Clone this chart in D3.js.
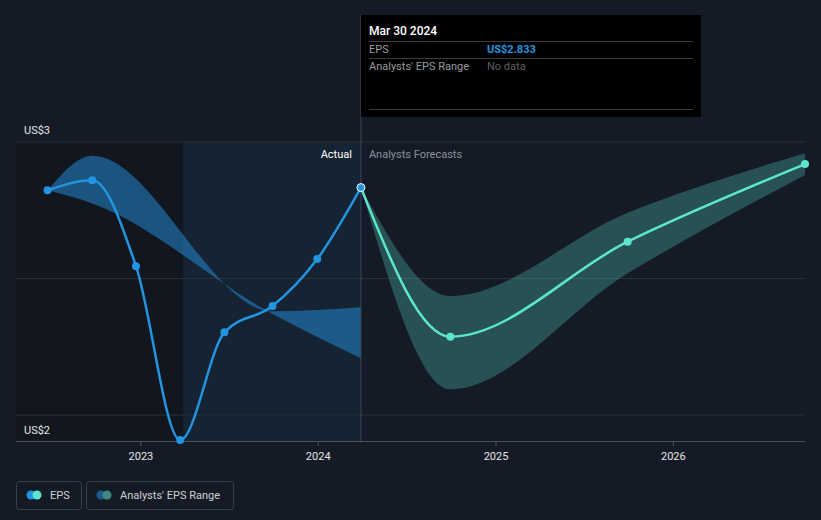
<!DOCTYPE html>
<html><head><meta charset="utf-8">
<script src="https://cdn.jsdelivr.net/npm/d3@7"></script>
<style>
html,body{margin:0;padding:0;background:#151b26;}
svg{display:block;font-family:Roboto,"Open Sans",sans-serif;}
</style></head>
<body>
<svg id="chart" width="821" height="520"></svg>
<script>
// ---- data ----
const actualDates = ["2022-06-24","2022-09-24","2022-12-23","2023-03-24","2023-06-23","2023-09-30","2023-12-31","2024-03-30"];
const actualEps = [2.823, 2.860, 2.545, 1.908, 2.303, 2.399, 2.571, 2.833];
const forecastDates = ["2024-03-30","2024-09-30","2025-09-30","2026-09-30"];
const forecastEps = [2.833, 2.287, 2.635, 2.919];
const forecastHigh = [2.833, 2.436, 2.741, 2.959];
const forecastLow = [2.833, 2.094, 2.519, 2.879];
const pastRangeDates = ["2022-06-24","2022-09-24","2023-09-30","2024-03-30"];
const pastHigh = [2.823, 2.950, 2.380, 2.395];
const pastLow = [2.823, 2.775, 2.370, 2.208];
const yTicks = [2, 2.5, 3];
const yLabels = ["US$2", "US$3"];
const yLabelValues = [2, 3];
const xTickYears = ["2023","2024","2025","2026"];
const lastActualLabel = "Mar 30 2024";
const lastActualValue = "US$2.833";
const ltmStart = "2023-03-30";

const parse = d3.timeParse("%Y-%m-%d");
const svg = d3.select("#chart");
const L = 16, R = 805, T = 142, B = 441;

const x = d3.scaleTime().domain([parse("2022-04-20"), parse("2026-09-30")]).range([L, R]);
const y = d3.scaleLinear().domain([2, 3]).range([415, 142]);

const lastX = x(parse(actualDates[actualDates.length-1]));

// background regions
svg.append("rect").attr("x", L).attr("y", T).attr("width", x(parse(ltmStart)) - L).attr("height", B - T).attr("fill", "#12161e");
svg.append("rect").attr("x", x(parse(ltmStart))).attr("y", T).attr("width", lastX - x(parse(ltmStart))).attr("height", B - T).attr("fill", "#2394df").attr("opacity", 0.07);

// gridlines
svg.append("g").selectAll("line").data(yTicks).join("line")
  .attr("x1", L).attr("x2", R).attr("y1", d => y(d)).attr("y2", d => y(d))
  .attr("stroke", "#2a3039").attr("stroke-width", 1);

// x axis
const xAxis = d3.axisBottom(x)
  .tickValues(xTickYears.map(s => parse(s + "-01-01")))
  .tickFormat(d3.timeFormat("%Y")).tickSize(5).tickPadding(6);
const gx = svg.append("g").attr("transform", `translate(0,${B})`).call(xAxis);
gx.select(".domain").attr("stroke", "#4a505a").attr("d", `M${L},0.5H${R}`);
gx.selectAll(".tick line").attr("stroke", "#4a505a");
gx.selectAll(".tick text").attr("fill", "#e6e6e6").attr("font-size", 11).attr("font-family", "Roboto, sans-serif");

// y labels
svg.append("g").selectAll("text").data(yLabelValues).join("text")
  .attr("x", 24).attr("y", (d, i) => i === 0 ? y(d) + 19 : y(d) - 8)
  .attr("fill", "#e6e6e6").attr("font-size", 11)
  .text((d, i) => yLabels[i]);

// past analysts range band
const pastBand = pastRangeDates.map((d, i) => ({ d: parse(d), hi: pastHigh[i], lo: pastLow[i] }));
svg.append("path").datum(pastBand)
  .attr("d", d3.area().curve(d3.curveMonotoneX).x(d => x(d.d)).y0(d => y(d.lo)).y1(d => y(d.hi)))
  .attr("fill", "#2394df").attr("opacity", 0.5);

// forecast band
const fBand = forecastDates.map((d, i) => ({ d: parse(d), hi: forecastHigh[i], lo: forecastLow[i] }));
svg.append("path").datum(fBand)
  .attr("d", d3.area().curve(d3.curveMonotoneX).x(d => x(d.d)).y0(d => y(d.lo)).y1(d => y(d.hi)))
  .attr("fill", "#5de6cf").attr("opacity", 0.27);

// vertical separator
svg.append("line").attr("x1", lastX).attr("x2", lastX).attr("y1", 15).attr("y2", B)
  .attr("stroke", "#3b4656").attr("stroke-width", 1);

// labels Actual / Analysts Forecasts
svg.append("text").attr("x", lastX - 9).attr("y", 158).attr("text-anchor", "end")
  .attr("fill", "#ffffff").attr("font-size", 11).text("Actual");
svg.append("text").attr("x", lastX + 8).attr("y", 158)
  .attr("fill", "#8b9099").attr("font-size", 11).text("Analysts Forecasts");

// lines
const actual = actualDates.map((d, i) => ({ d: parse(d), v: actualEps[i] }));
const forecast = forecastDates.map((d, i) => ({ d: parse(d), v: forecastEps[i] }));
const line = d3.line().curve(d3.curveMonotoneX).x(d => x(d.d)).y(d => y(d.v));
svg.append("path").datum(forecast).attr("d", line).attr("fill", "none")
  .attr("stroke", "#5de6cf").attr("stroke-width", 2.5);
svg.append("path").datum(actual).attr("d", line).attr("fill", "none")
  .attr("stroke", "#2394df").attr("stroke-width", 2.5);

// points
svg.append("g").selectAll("circle").data(forecast.slice(1)).join("circle")
  .attr("cx", d => x(d.d)).attr("cy", d => y(d.v)).attr("r", 4).attr("fill", "#5de6cf");
svg.append("g").selectAll("circle").data(actual).join("circle")
  .attr("cx", d => x(d.d)).attr("cy", d => y(d.v)).attr("r", 4)
  .attr("fill", "#2394df")
  .attr("stroke", (d, i) => i === actual.length - 1 ? "#ffffff" : "none")
  .attr("stroke-width", 1);

// tooltip
const tt = svg.append("g");
tt.append("rect").attr("x", 361).attr("y", 15).attr("width", 340).attr("height", 102).attr("fill", "#000");
tt.append("text").attr("x", 369).attr("y", 35).attr("fill", "#fff").attr("font-size", 12).attr("font-weight", 500).text(lastActualLabel);
[41.5, 58.5, 109.5].forEach(yy => tt.append("line").attr("x1", 369).attr("x2", 693).attr("y1", yy).attr("y2", yy).attr("stroke", "#3c3c3c"));
tt.append("text").attr("x", 369).attr("y", 53).attr("fill", "#9a9a9a").attr("font-size", 11).text("EPS");
tt.append("text").attr("x", 487).attr("y", 53).attr("fill", "#2394df").attr("font-size", 11).attr("font-weight", 700).text(lastActualValue);
tt.append("text").attr("x", 369).attr("y", 70).attr("fill", "#9a9a9a").attr("font-size", 11).text("Analysts' EPS Range");
tt.append("text").attr("x", 487).attr("y", 70).attr("fill", "#5f5f5f").attr("font-size", 11).text("No data");

// legend
const lg = svg.append("g");
lg.append("rect").attr("x", 16.5).attr("y", 481.5).attr("width", 65).attr("height", 28).attr("rx", 3)
  .attr("fill", "none").attr("stroke", "#3a3f48");
lg.append("circle").attr("cx", 31).attr("cy", 495).attr("r", 4.5).attr("fill", "#2394df");
lg.append("circle").attr("cx", 37).attr("cy", 495).attr("r", 4.5).attr("fill", "#5de6cf");
lg.append("text").attr("x", 50).attr("y", 499).attr("fill", "#d0d0d0").attr("font-size", 11).text("EPS");
lg.append("rect").attr("x", 86.5).attr("y", 481.5).attr("width", 147).attr("height", 28).attr("rx", 3)
  .attr("fill", "none").attr("stroke", "#3a3f48");
lg.append("circle").attr("cx", 101).attr("cy", 495).attr("r", 4.5).attr("fill", "#1f5b8a");
lg.append("circle").attr("cx", 107).attr("cy", 495).attr("r", 4.5).attr("fill", "#3e8a80");
lg.append("text").attr("x", 120).attr("y", 499).attr("fill", "#d0d0d0").attr("font-size", 11).text("Analysts' EPS Range");
</script>
</body></html>
